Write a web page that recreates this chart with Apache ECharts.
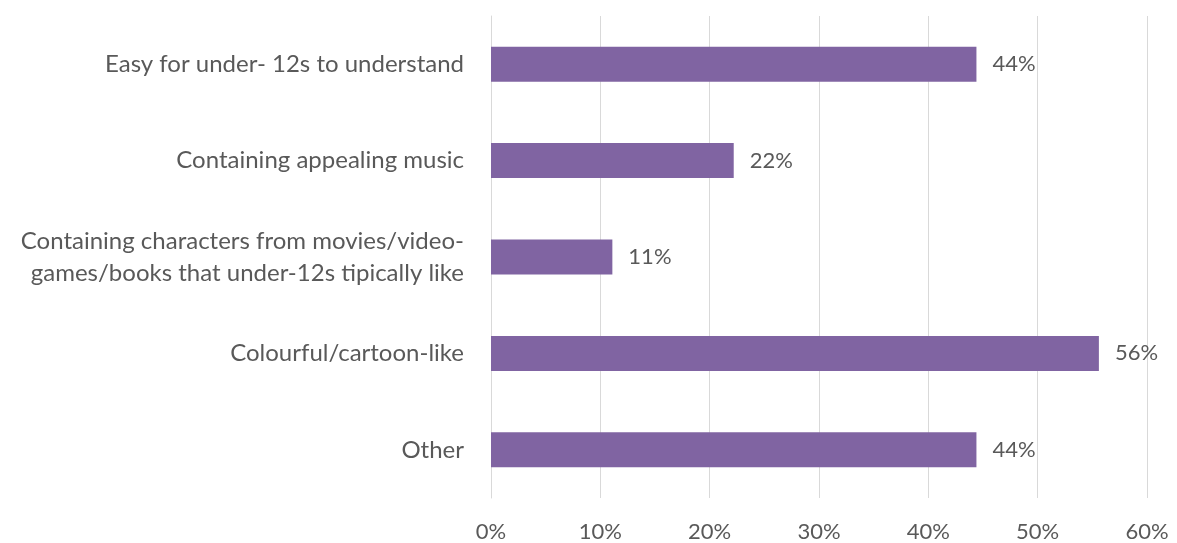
<!DOCTYPE html>
<html>
<head>
<meta charset="utf-8">
<script src="https://cdn.jsdelivr.net/npm/echarts@6/dist/echarts.min.js"></script>
<style>
  html, body { margin: 0; padding: 0; background: #ffffff; }
  #chart { width: 1177px; height: 543px; }
</style>
</head>
<body>
<div id="chart"></div>
<script>
// Categories listed top to bottom
const categories = [
  'Easy for under- 12s to understand',
  'Containing appealing music',
  'Containing characters from movies/video-\ngames/books that under-12s tipically like',
  'Colourful/cartoon-like',
  'Other'
];
// Share of respondents, in percent
const shares = [44.4, 22.2, 11.1, 55.6, 44.4];
// Value axis ticks, in percent
const axisTicks = [0, 10, 20, 30, 40, 50, 60];

const textColor = '#595959';
const fontFamily = 'Lato, "Open Sans", sans-serif';

const chart = echarts.init(document.getElementById('chart'), null, { renderer: 'canvas' });
chart.setOption({
  animation: false,
  backgroundColor: '#ffffff',
  grid: { left: 491, right: 30, top: 16, bottom: 42, containLabel: false },
  xAxis: {
    type: 'value',
    min: axisTicks[0],
    max: axisTicks[axisTicks.length - 1],
    interval: axisTicks[1] - axisTicks[0],
    axisLine: { show: false },
    axisTick: { show: false },
    splitLine: { show: true, lineStyle: { color: '#d9d9d9', width: 1 } },
    axisLabel: {
      color: textColor, fontFamily, fontSize: 22, margin: 23,
      formatter: v => v + '%'
    }
  },
  yAxis: {
    type: 'category',
    data: categories.slice().reverse(),
    axisLine: { show: true, lineStyle: { color: '#d9d9d9', width: 1 } },
    axisTick: { show: false },
    axisLabel: {
      color: textColor, fontFamily, fontSize: 24, margin: 27,
      lineHeight: 32, align: 'right'
    }
  },
  series: [{
    type: 'bar',
    data: shares.slice().reverse(),
    barWidth: 35,
    itemStyle: { color: '#8064A2' },
    label: {
      show: true, position: 'right', distance: 16,
      color: textColor, fontFamily, fontSize: 22,
      formatter: p => Math.round(p.value) + '%'
    }
  }]
});
</script>
</body>
</html>
